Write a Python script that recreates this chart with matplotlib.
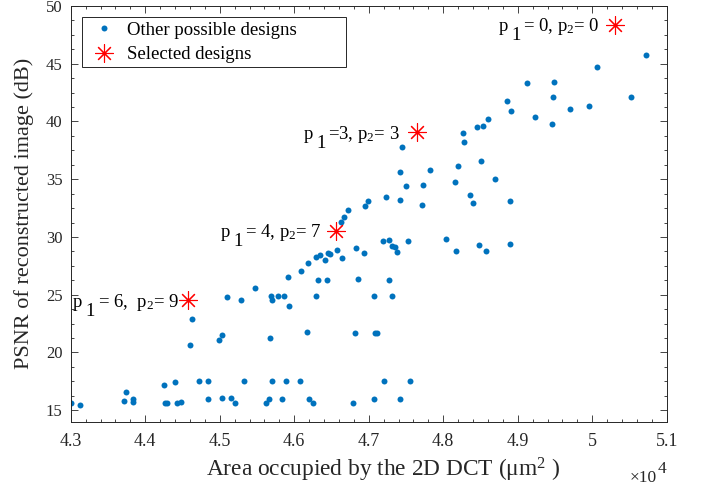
import matplotlib
matplotlib.use('Agg')
from matplotlib import pyplot as plt
from matplotlib.ticker import MultipleLocator, FuncFormatter

plt.rcParams['font.family'] = ['Liberation Serif', 'DejaVu Serif']
plt.rcParams['mathtext.fontset'] = 'custom'
plt.rcParams['mathtext.rm'] = 'Liberation Serif'
plt.rcParams['mathtext.it'] = 'Liberation Serif:italic'
plt.rcParams['mathtext.bf'] = 'Liberation Serif:bold'

# MATLAB-ish colours
c_other = '#0072BD'
c_sel = '#FF0000'
c_axis = '#262626'

#####  data (area in um^2, PSNR in dB)

area_other = [43004, 43125, 43740, 43720, 43840, 43830, 44250, 44270, 44290, 44396,
              44420, 44476, 44600, 44624, 44726, 44839, 44847, 44995, 45035, 45030,
              45148, 45205, 45330, 45620, 45658, 45680, 45700, 45840, 45886, 46074,
              46170, 46195, 46257, 46794, 46820, 47067, 47089, 47116, 47200, 47416,
              47558,
              45102, 45290, 45480, 45685, 45700, 45779, 45860, 45934, 45920, 46087,
              46180, 46289, 46346, 46418, 46450, 46480, 46570, 46640, 46315, 46444,
              46290, 46628, 46673, 46720, 46955, 46990, 47228, 46830, 46933, 46856,
              47075, 47190, 47277, 47277, 47310,
              47420, 47823, 47497, 47730, 47420, 47716, 48163, 48355, 48400, 48695,
              48893, 47313, 47350, 47375, 47530, 48033, 48172, 48480, 48570, 48893,
              49125, 49490, 48852, 49480, 48910, 49236, 49465, 48266, 48275, 48454,
              48530, 48605, 47450, 48195, 48503,
              50069, 50722, 49706, 49957, 50517]
psnr_other = [15.66, 15.42, 16.58, 15.77, 15.97, 15.68, 17.22, 15.62, 15.62, 17.45,
              15.66, 15.71, 20.62, 22.88, 17.50, 17.50, 16.00, 21.08, 21.55, 16.09,
              16.03, 15.66, 17.53, 15.62, 15.97, 21.23, 17.50, 15.97, 17.50, 17.50,
              21.75, 15.97, 15.62, 15.62, 21.66, 15.97, 21.66, 21.64, 17.50, 15.97,
              17.50,
              24.76, 24.50, 25.62, 24.87, 24.58, 24.87, 24.87, 24.00, 26.54, 27.06,
              27.70, 28.28, 28.40, 27.99, 28.65, 28.54, 28.83, 28.19, 26.28, 26.28,
              24.87, 31.31, 31.74, 32.32, 32.67, 33.10, 33.45, 29.03, 28.62, 26.34,
              24.90, 29.61, 29.70, 26.26, 24.90,
              35.64, 35.79, 34.38, 34.49, 33.19, 32.76, 34.75, 33.65, 32.96, 35.03,
              33.08, 29.18, 29.14, 28.68, 29.64, 29.81, 28.74, 29.26, 28.77, 29.35,
              43.30, 43.39, 41.79, 42.11, 40.90, 40.38, 39.77, 39.02, 38.19, 39.51,
              39.60, 40.24, 37.78, 36.16, 36.59,
              44.69, 45.78, 41.10, 41.31, 42.11]

area_sel = [50306, 47644, 46560, 44570]
psnr_sel = [48.35, 39.06, 30.50, 24.50]
sel_tails = [r'= 0, p$_{\mathrm{2}}$= 0',
             r'=3, p$_{\mathrm{2}}$= 3',
             r'= 4, p$_{\mathrm{2}}$= 7',
             r'= 6,  p$_{\mathrm{2}}$= 9']

#####

fig = plt.figure(figsize=(7.03, 4.88), dpi=100)
ax = fig.add_axes([0.1006, 0.1359, 0.8478, 0.8518])

ax.plot(area_other, psnr_other, linestyle='none', marker='o', ms=4.3,
        mec='none', color=c_other, label='Other possible designs')
ax.plot(area_sel, psnr_sel, linestyle='none', marker=(8, 2, 0), ms=13, mew=0.8,
        color=c_sel, label='Selected designs', zorder=5)

# "p 1 = a, p2 = b" labels, the 1 is dropped below the line
fs_ann = 13.5
gaps = [11, 12, 10, 6.5]
for x, y, tail, gap in zip(area_sel, psnr_sel, sel_tails, gaps):
    t_tail = ax.annotate(tail, xy=(x, y), xytext=(-gap, -4.5), textcoords='offset points',
                         ha='right', va='baseline', fontsize=fs_ann, color='k')
    t_one = ax.annotate('1', xy=(0, y), xycoords=(t_tail, 'data'), xytext=(-2, -11),
                        textcoords='offset points', ha='right', va='baseline',
                        fontsize=fs_ann, color='k')
    ax.annotate('p', xy=(0, y), xycoords=(t_one, 'data'), xytext=(-2.5, -4.5),
                textcoords='offset points', ha='right', va='baseline',
                fontsize=fs_ann, color='k')

ax.set_xlim(43000, 51000)
ax.set_ylim(14, 50)
ax.xaxis.set_major_locator(MultipleLocator(1000))
ax.xaxis.set_minor_locator(MultipleLocator(200))
ax.yaxis.set_major_locator(MultipleLocator(5))
ax.yaxis.set_minor_locator(MultipleLocator(1.25))
ax.xaxis.set_major_formatter(FuncFormatter(lambda v, _: '%g' % (v / 1e4)))

ax.tick_params(which='both', direction='in', top=True, right=True,
               color=c_axis, width=0.6, labelcolor=c_axis)
ax.tick_params(which='major', length=5)
ax.tick_params(which='minor', length=2.5)
ax.tick_params(axis='x', pad=8, labelsize=13)
ax.tick_params(axis='y', pad=6, labelsize=12)
for sp in ax.spines.values():
    sp.set_color(c_axis)
    sp.set_linewidth(0.7)

ax.set_xlabel(r'Area occupied by the 2D DCT ($\mathrm{\mu m^{2}}$ )', fontsize=16.8, color=c_axis)
ax.xaxis.set_label_coords(0.524, -0.082)
ax.set_ylabel('PSNR of reconstructed image (dB)', fontsize=16, color=c_axis)
ax.yaxis.set_label_coords(-0.062, 0.5)

# x10^4 multiplier under the right end of the axis
ax.text(0.983, -0.145, '×10', transform=ax.transAxes,
        ha='right', va='baseline', fontsize=12.5, color=c_axis)
ax.text(0.9855, -0.123, '4', transform=ax.transAxes,
        ha='left', va='baseline', fontsize=12.5, color=c_axis)

leg = ax.legend(loc='upper left', bbox_to_anchor=(0.0185, 0.9728, 0.4435, 0.0),
                mode='expand', borderaxespad=0, fontsize=13.5, fancybox=False,
                edgecolor=c_axis, framealpha=1, handlelength=1.9, handletextpad=0.3,
                labelspacing=0.4, borderpad=0.22)
leg.get_frame().set_linewidth(0.7)

fig.savefig('out.png', dpi=100)
